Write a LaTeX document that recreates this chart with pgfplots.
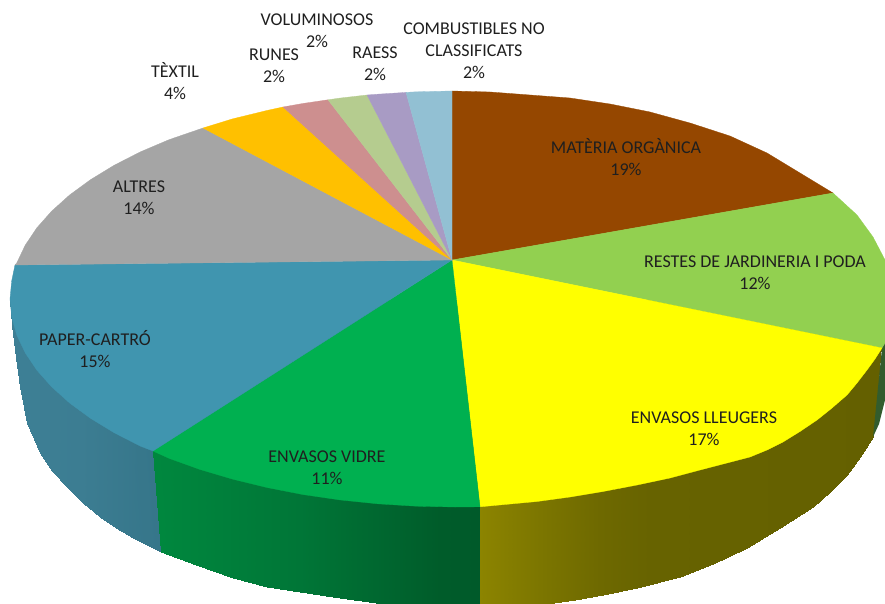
\documentclass[border=0pt]{standalone}
\usepackage{fontspec}
\setmainfont{Carlito}
\usepackage{pgfplots}
\pgfplotsset{compat=1.18}

\definecolor{cmat}{RGB}{149,71,0}
\definecolor{cjar}{RGB}{146,208,80}
\definecolor{clle}{RGB}{255,255,0}
\definecolor{cvid}{RGB}{0,176,80}
\definecolor{cpap}{RGB}{64,149,175}
\definecolor{calt}{RGB}{165,165,165}
\definecolor{ctex}{RGB}{255,192,0}
\definecolor{crun}{RGB}{205,143,143}
\definecolor{cvol}{RGB}{181,204,143}
\definecolor{crae}{RGB}{168,155,196}
\definecolor{ccom}{RGB}{146,192,211}
\definecolor{cjarside}{RGB}{50,92,45}

% side shading, indexed by pixel x
\pgfplotsset{colormap={side}{
  rgb255(0pt)=(62,128,150);
  rgb255(80pt)=(60,125,146);
  rgb255(155pt)=(54,118,138);
  rgb255(161pt)=(0,135,62);
  rgb255(300pt)=(0,118,55);
  rgb255(440pt)=(0,92,42);
  rgb255(479pt)=(0,90,42);
  rgb255(481pt)=(140,132,0);
  rgb255(540pt)=(124,118,0);
  rgb255(600pt)=(110,105,0);
  rgb255(650pt)=(103,99,0);
  rgb255(885pt)=(100,96,0)
}}
\tikzset{lab/.style={font=\fontsize{18}{22}\selectfont, align=center, text=black!88, inner sep=0pt}}

\begin{document}
\begin{tikzpicture}
\useasboundingbox (0,0) rectangle (885pt,604pt);
\begin{axis}[
  at={(0,0)}, anchor=south west,
  hide axis, scale only axis,
  width=885pt, height=604pt,
  xmin=0, xmax=885, ymin=0, ymax=604,
  y dir=reverse,
  colormap name=side,
  point meta min=0, point meta max=885,
]
% sides
\addplot[patch, patch type=rectangle, shader=interp, point meta=explicit] table[meta=c] {
x y c
10 300 10
12 300 12
12 325 12
10 300 10
12 300 12
15 300 15
15 350 15
12 325 12
15 300 15
20 300 20
20 387 20
15 350 15
20 300 20
27 300 27
27 423 27
20 387 20
27 300 27
40 300 40
40 453 40
27 423 27
40 300 40
52 300 52
52 471 52
40 453 40
52 300 52
67 300 67
67 487 67
52 471 52
67 300 67
83 300 83
83 503 83
67 487 67
83 300 83
100 300 100
100 517 100
83 503 83
100 300 100
116 300 116
116 528 116
100 517 100
116 300 116
133 300 133
133 538 133
116 528 116
133 300 133
141 300 155
161 551.5 155
133 538 133
};
\addplot[patch, patch type=rectangle, shader=interp, point meta=explicit] table[meta=c] {
x y c
141 300 161
196 300 196
196 565 196
161 551.5 161
196 300 196
233 300 233
233 578 233
196 565 196
233 300 233
267 300 267
267 587 267
233 578 233
267 300 267
300 300 300
300 592 300
267 587 267
300 300 300
333 300 333
333 597 333
300 592 300
333 300 333
383 300 383
383 604 383
333 597 333
383 300 383
430 300 430
430 604 430
383 604 383
430 300 430
480 300 479
480 604 479
430 604 430
};
\addplot[patch, patch type=rectangle, shader=interp, point meta=explicit] table[meta=c] {
x y c
480 300 481
547 300 547
547 604 547
480 604 481
547 300 547
575 300 575
575 600 575
547 604 547
575 300 575
603 300 603
603 595 603
575 600 575
603 300 603
637 300 637
637 588 637
603 595 603
637 300 637
680 300 680
680 577 680
637 588 637
680 300 680
713 300 713
713 564 713
680 577 680
713 300 713
747 300 747
747 548 747
713 564 713
747 300 747
780 300 780
780 528 780
747 548 747
780 300 780
813 300 813
813 507 813
780 528 780
813 300 813
830 300 830
830 492 830
813 507 813
830 300 830
847 300 847
847 475 847
830 492 830
847 300 847
860 300 860
860 457 860
847 475 847
860 300 860
885 300 873
873 437 873
860 457 860
};
\addplot[fill=cjarside, draw=none] coordinates {
  (885,300) (885,400) (879,424) (873,437) (882,348) } --cycle;

% top surface
\addplot[fill=cmat, draw=cmat, line width=.3pt] coordinates {
  (452,260) (452,91) (490,92) (530,95) (570,98) (610,104) (650,112) (690,123)
  (730,136) (767,153) (800,173) (833,193) } --cycle;
\addplot[fill=cjar, draw=cjar, line width=.3pt] coordinates {
  (452,260) (833,193) (857,215) (873,237) (885,260) (885,343) (882,348) } --cycle;
\addplot[fill=clle, draw=clle, line width=.3pt] coordinates {
  (452,260) (882,348) (875,359) (867,370) (857,383) (847,395) (832,408) (817,420)
  (800,431.5) (783,442) (767,450) (750,457) (725,463.5) (700,470) (670,478) (637,485)
  (603,491.5) (570,497) (537,501.5) (510,504) (480,506.8) } --cycle;
\addplot[fill=cvid, draw=cvid, line width=.3pt] coordinates {
  (452,260) (480,506.8) (455,507) (416.2,506.2) (377.7,503.8) (339.8,499.9)
  (302.8,494.5) (266.9,487.5) (232.5,479.1) (199.8,469.4) (169,458.3) (153,451) } --cycle;
\addplot[fill=cpap, draw=cpap, line width=.3pt] coordinates {
  (452,260) (153,451) (140.3,446.1) (114.1,432.7) (90.5,418.3) (69.6,403) (51.7,386.9)
  (36.8,370.1) (25.2,352.8) (16.8,335.1) (11.7,317.1) (10,299) (11.7,280.9) (15,265) } --cycle;
\addplot[fill=calt, draw=calt, line width=.3pt] coordinates {
  (452,260) (15,265) (16.8,262.9) (25.2,245.2) (36.8,227.9) (51.7,211.1) (69.6,195)
  (90.5,179.7) (114.1,165.3) (140.3,151.9) (169,139.7) (203,128) } --cycle;
\addplot[fill=ctex, draw=ctex, line width=.3pt] coordinates {
  (452,260) (203,128) (232.5,118.9) (266.9,110.5) (283,107) } --cycle;
\addplot[fill=crun, draw=crun, line width=.3pt] coordinates {
  (452,260) (283,107) (302.8,103.5) (328,99.8) } --cycle;
\addplot[fill=cvol, draw=cvol, line width=.3pt] coordinates {
  (452,260) (328,99.8) (339.8,98.1) (367,95) } --cycle;
\addplot[fill=crae, draw=crae, line width=.3pt] coordinates {
  (452,260) (367,95) (377.7,94.2) (406,92.4) } --cycle;
\addplot[fill=ccom, draw=ccom, line width=.3pt] coordinates {
  (452,260) (406,92.4) (416.2,91.8) (452,91) } --cycle;

% labels
\node[lab] at (axis cs:626,157) {MATÈRIA ORGÀNICA\\19\%};
\node[lab] at (axis cs:755,273) {RESTES DE JARDINERIA I PODA\\12\%};
\node[lab] at (axis cs:704,429) {ENVASOS LLEUGERS\\17\%};
\node[lab] at (axis cs:327,468) {ENVASOS VIDRE\\11\%};
\node[lab] at (axis cs:95,349) {PAPER-CARTRÓ\\15\%};
\node[lab] at (axis cs:139,198) {ALTRES\\14\%};
\node[lab] at (axis cs:175,81) {TÈXTIL\\4\%};
\node[lab] at (axis cs:274,66) {RUNES\\2\%};
\node[lab] at (axis cs:317,31) {VOLUMINOSOS\\2\%};
\node[lab] at (axis cs:375,64) {RAESS\\2\%};
\node[lab] at (axis cs:474,51) {COMBUSTIBLES NO\\CLASSIFICATS\\2\%};
\end{axis}
\end{tikzpicture}
\end{document}
